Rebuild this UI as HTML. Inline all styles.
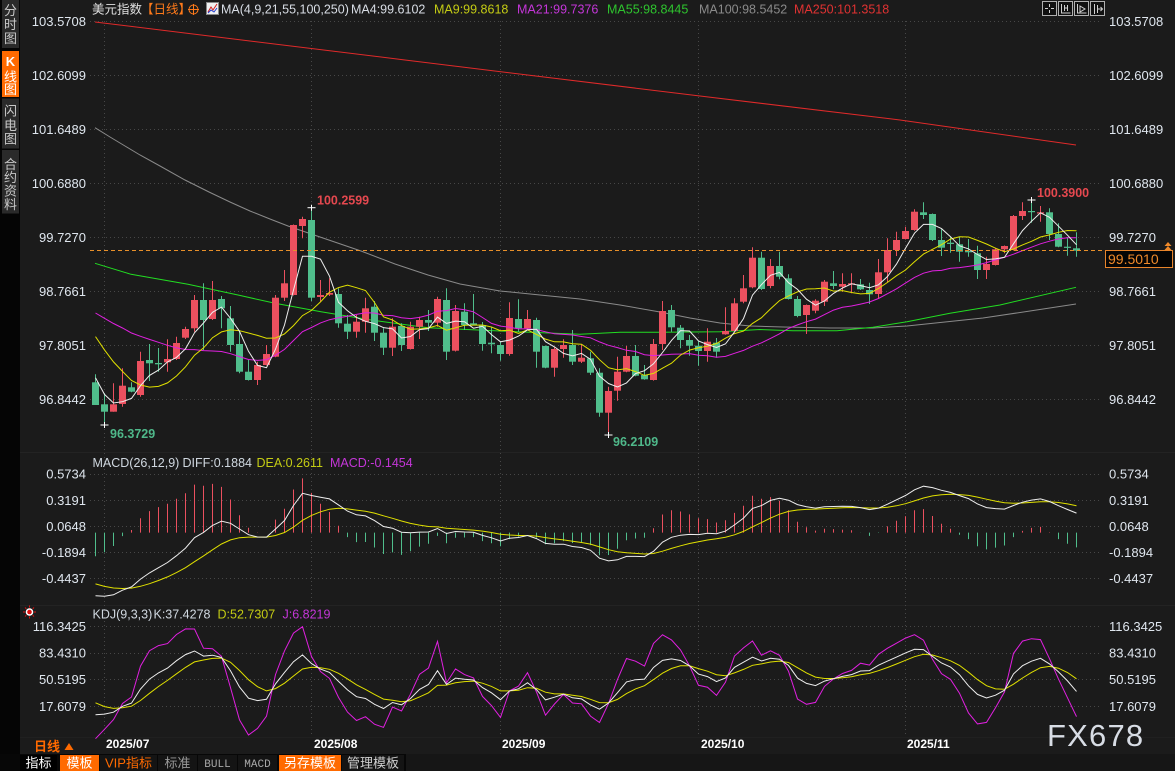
<!DOCTYPE html>
<html><head><meta charset="utf-8">
<style>
html,body{margin:0;padding:0;background:#1b1b1b;width:1175px;height:771px;overflow:hidden}
svg{display:block}
text{font-family:"Liberation Sans","Noto Sans CJK SC",sans-serif}
</style></head><body>
<svg id="s" width="1175" height="771" viewBox="0 0 1175 771" xmlns="http://www.w3.org/2000/svg">
<rect width="1175" height="771" fill="#1b1b1b"/>
<line x1="20" y1="452.5" x2="1175" y2="452.5" stroke="#232323"/>
<line x1="20" y1="605.5" x2="1175" y2="605.5" stroke="#232323"/>
<line x1="20" y1="737.5" x2="1175" y2="737.5" stroke="#202020"/>
<g id="grid" stroke="#474747" stroke-width="1" stroke-dasharray="1,3" fill="none">
<line x1="90" y1="21.5" x2="1100" y2="21.5"/>
<line x1="90" y1="75.5" x2="1100" y2="75.5"/>
<line x1="90" y1="129.5" x2="1100" y2="129.5"/>
<line x1="90" y1="183.5" x2="1100" y2="183.5"/>
<line x1="90" y1="237.5" x2="1100" y2="237.5"/>
<line x1="90" y1="291.5" x2="1100" y2="291.5"/>
<line x1="90" y1="345.5" x2="1100" y2="345.5"/>
<line x1="90" y1="399.5" x2="1100" y2="399.5"/>
<line x1="90" y1="474.5" x2="1100" y2="474.5"/>
<line x1="90" y1="500.5" x2="1100" y2="500.5"/>
<line x1="90" y1="526.5" x2="1100" y2="526.5"/>
<line x1="90" y1="552.5" x2="1100" y2="552.5"/>
<line x1="90" y1="578.5" x2="1100" y2="578.5"/>
<line x1="90" y1="626.5" x2="1100" y2="626.5"/>
<line x1="90" y1="653.5" x2="1100" y2="653.5"/>
<line x1="90" y1="679.5" x2="1100" y2="679.5"/>
<line x1="90" y1="706.5" x2="1100" y2="706.5"/>
<line x1="104.5" y1="21" x2="104.5" y2="737"/>
<line x1="311.5" y1="21" x2="311.5" y2="737"/>
<line x1="500.5" y1="21" x2="500.5" y2="737"/>
<line x1="698.5" y1="21" x2="698.5" y2="737"/>
<line x1="905.5" y1="21" x2="905.5" y2="737"/>
</g>
<g id="dyn"></g>
<line x1="90" y1="250.5" x2="1103" y2="250.5" stroke="#e8902a" stroke-width="1" stroke-dasharray="4,3"/>

<rect x="0" y="0" width="20" height="755" fill="#050505"/>
<rect x="2" y="0" width="17" height="48" fill="#2a2a2a"/>
<rect x="2" y="51" width="17" height="46" fill="#ff6a00"/>
<rect x="2" y="98.5" width="17" height="50" fill="#2a2a2a"/>
<rect x="2" y="150" width="17" height="63.5" fill="#2a2a2a"/>
<g font-size="13" text-anchor="middle" fill="#c8c8c8">
<text x="10.5" y="15">分</text><text x="10.5" y="29">时</text><text x="10.5" y="43">图</text>
<text x="10.5" y="66" fill="#fff" font-weight="bold">K</text><text x="10.5" y="81.5" fill="#fff">线</text><text x="10.5" y="94" fill="#fff">图</text>
<text x="10.5" y="115.5">闪</text><text x="10.5" y="130">电</text><text x="10.5" y="143.5">图</text>
<text x="10.5" y="169">合</text><text x="10.5" y="182">约</text><text x="10.5" y="195.5">资</text><text x="10.5" y="209">料</text>
</g>

<g font-size="12.5">
<text x="92" y="13.5" fill="#e0e0e0">美元指数</text>
<text x="141" y="13.5" fill="#ff7a1a">【日线】</text>
<text x="221" y="13.5" fill="#d8dde5">MA(4,9,21,55,100,250)</text>
<text x="351" y="13.5" fill="#d8dde5">MA4:99.6102</text>
<text x="434" y="13.5" fill="#c4cc14">MA9:99.8618</text>
<text x="517" y="13.5" fill="#c436d8">MA21:99.7376</text>
<text x="607" y="13.5" fill="#2ec42e">MA55:98.8445</text>
<text x="699" y="13.5" fill="#8a8a8a">MA100:98.5452</text>
<text x="794" y="13.5" fill="#e03232">MA250:101.3518</text>
</g>
<circle cx="193.5" cy="9.5" r="4.5" fill="none" stroke="#ff7a1a" stroke-width="1"/>
<line x1="188" y1="9.5" x2="199" y2="9.5" stroke="#ff7a1a"/>
<line x1="193.5" y1="4" x2="193.5" y2="15" stroke="#ff7a1a"/>
<rect x="206.5" y="2.5" width="12" height="12" fill="#f0f0f0" stroke="#888"/>
<polyline points="208,12 211,7 213,10 217,4" fill="none" stroke="#d02020" stroke-width="1"/>
<polyline points="208,13 211,10 214,12 217,8" fill="none" stroke="#2040d0" stroke-width="1"/>
<g fill="#111" stroke="#b0b0b0" stroke-width="1">
<rect x="1042.5" y="1.5" width="14" height="14"/>
<rect x="1058.5" y="1.5" width="14" height="14"/>
<rect x="1074.5" y="1.5" width="14" height="14"/>
<rect x="1090.5" y="1.5" width="14" height="14"/>
</g>
<g stroke="#d0d0d0" stroke-width="1" fill="none">
<path d="M1049.5 4v3M1049.5 10v3M1045 8.5h3M1051 8.5h3"/>
<path d="M1061.5 4v9h9M1064.5 5v6M1067.5 5v6M1064.5 8h3"/>
<path d="M1077.5 4v9h9M1080 6l5 3l-5 3z"/>
<path d="M1094.5 4v10M1097.5 5v8M1097.5 9h5M1100.5 7l2 2l-2 2"/>
</g>

<g font-size="13" fill="#dfe6ee" text-anchor="end">
<text x="86" y="26">103.5708</text>
<text x="86" y="80">102.6099</text>
<text x="86" y="134">101.6489</text>
<text x="86" y="188">100.6880</text>
<text x="86" y="242">99.7270</text>
<text x="86" y="296">98.7661</text>
<text x="86" y="350">97.8051</text>
<text x="86" y="404">96.8442</text>
<text x="86" y="478.5">0.5734</text>
<text x="86" y="505">0.3191</text>
<text x="86" y="531">0.0648</text>
<text x="86" y="557">-0.1894</text>
<text x="86" y="583">-0.4437</text>
<text x="86" y="631">116.3425</text>
<text x="86" y="657.5">83.4310</text>
<text x="86" y="684">50.5195</text>
<text x="86" y="711">17.6079</text>
</g>
<g font-size="13" fill="#dfe6ee">
<text x="1109" y="26">103.5708</text>
<text x="1109" y="80">102.6099</text>
<text x="1109" y="134">101.6489</text>
<text x="1109" y="188">100.6880</text>
<text x="1109" y="242">99.7270</text>
<text x="1109" y="296">98.7661</text>
<text x="1109" y="350">97.8051</text>
<text x="1109" y="404">96.8442</text>
<text x="1109" y="478.5">0.5734</text>
<text x="1109" y="505">0.3191</text>
<text x="1109" y="531">0.0648</text>
<text x="1109" y="557">-0.1894</text>
<text x="1109" y="583">-0.4437</text>
<text x="1109" y="631">116.3425</text>
<text x="1109" y="657.5">83.4310</text>
<text x="1109" y="684">50.5195</text>
<text x="1109" y="711">17.6079</text>
</g>
<rect x="1105.5" y="250.5" width="67" height="17" fill="#050505" stroke="#e8842a" stroke-width="1"/>
<text x="1108" y="264" font-size="14" fill="#f08a2a">99.5010</text>
<path d="M1168 242l3.5 4h-7z M1168 246l3.5 4h-7z" fill="#f08a2a"/>

<g font-size="12.5" font-weight="bold">
<text x="317" y="204.5" fill="#e5484f">100.2599</text>
<text x="110" y="438" fill="#4fb88a">96.3729</text>
<text x="613" y="446" fill="#4fb88a">96.2109</text>
<text x="1037" y="197" fill="#e5484f">100.3900</text>
</g>

<g font-size="12.5">
<text x="92.5" y="467" fill="#d0d8e0">MACD(26,12,9)</text>
<text x="182.5" y="467" fill="#d0d8e0">DIFF:0.1884</text>
<text x="256.5" y="467" fill="#c4cc14">DEA:0.2611</text>
<text x="330" y="467" fill="#c436d8">MACD:-0.1454</text>
<text x="92.5" y="618.5" fill="#d0d8e0">KDJ(9,3,3)</text>
<text x="153.5" y="618.5" fill="#d0d8e0">K:37.4278</text>
<text x="217.5" y="618.5" fill="#c4cc14">D:52.7307</text>
<text x="282.5" y="618.5" fill="#c436d8">J:6.8219</text>
</g>
<circle cx="29.5" cy="612" r="3.8" fill="#fff"/>
<circle cx="29.5" cy="612" r="2.3" fill="#e01010"/>
<g stroke="#e01010" stroke-width="1">
<path d="M29.5 605.5v2M29.5 616.5v2M23 612h2M34 612h2M25 607.5l1.3 1.3M32.7 615.2l1.3 1.3M34 607.5l-1.3 1.3M26.3 615.2l-1.3 1.3"/>
</g>

<g font-size="12" font-weight="bold" fill="#ffffff">
<text x="106" y="748">2025/07</text>
<text x="314" y="748">2025/08</text>
<text x="502" y="748">2025/09</text>
<text x="701" y="748">2025/10</text>
<text x="907" y="748">2025/11</text>
</g>
<text x="34" y="751" font-size="13" font-weight="bold" fill="#ff6a00">日线</text>
<path d="M69 743l4.5 7h-9z" fill="#ff6a00"/>
<text x="1047" y="746" font-size="31" fill="#d8dde5" letter-spacing="1.2">FX678</text>

<rect x="0" y="754" width="1175" height="17" fill="#161616"/>
<rect x="0" y="754" width="406" height="17" fill="#070707"/>
<rect x="20" y="755" width="37" height="16" fill="#000"/>
<rect x="60" y="755" width="39" height="16" fill="#ff6a00"/>
<rect x="100" y="755" width="57" height="16" fill="#141414"/>
<rect x="158" y="755" width="39" height="16" fill="#141414"/>
<rect x="198" y="755" width="39" height="16" fill="#141414"/>
<rect x="238" y="755" width="39" height="16" fill="#141414"/>
<rect x="279" y="755" width="62" height="16" fill="#ff6a00"/>
<rect x="342" y="755" width="62" height="16" fill="#141414"/>
<g font-size="13" text-anchor="middle">
<text x="38.5" y="767.5" fill="#fff">指标</text>
<text x="79.5" y="767.5" fill="#fff">模板</text>
<text x="128.5" y="767.5" fill="#ff6a00">VIP指标</text>
<text x="177.5" y="767.5" fill="#9a9a9a">标准</text>
<text x="217.5" y="767" fill="#a8a8a8" font-size="11" style="font-family:'Liberation Mono',monospace">BULL</text>
<text x="257.5" y="767" fill="#a8a8a8" font-size="11" style="font-family:'Liberation Mono',monospace">MACD</text>
<text x="310" y="767.5" fill="#fff">另存模板</text>
<text x="373" y="767.5" fill="#cfcfcf">管理模板</text>
</g>
</svg>
<script>
(function(){
var D=[[0,382.3,405,374.3,405],[0,404.3,411.7,393.3,425],[1,404.3,411.7,383.3,411.7],[1,385.7,404,368.3,406.7],[0,387.3,391.7,382.3,392.3],[1,361,395,351.7,396.7],[0,360,363.3,344,381],[0,363,364.3,348,371.7],[1,359,362.3,339.3,371.7],[1,343,359,336.7,360],[1,329,337.7,326.7,339],[1,300,328.3,295,331.7],[0,300,320,283.3,350],[1,300,319,281,320],[0,299,308.3,296,328.3],[0,318.3,345,306,351.7],[0,344,371.7,331.7,373.3],[0,371.7,380,360,380.5],[1,365,380,361.7,385],[1,354,365,345,365.5],[1,297.7,356.7,295,357.3],[1,283.3,297.7,270,301],[1,225,295,224.5,295.5],[1,219,226,216.7,238.3],[0,220,297.7,207.7,301],[1,295,297,280,301.7],[1,293,294.7,278.3,296],[0,294,323.3,288.3,327.7],[0,323.7,331.7,315,339],[1,321.7,331.7,315,337.7],[1,308.3,321.7,297.7,332.7],[0,306.7,332.7,301,341],[0,332.7,347.7,328.3,355],[1,326.7,347.7,318.3,356],[0,326,345,323.3,351],[1,326.7,349,321.7,349.5],[1,320,326.7,316.7,339],[0,320,322.7,310,331],[1,299,322.7,296.7,326.7],[0,300,351.7,288.3,360],[1,311,350.7,305,351.5],[0,311.7,325,303.3,330],[0,323.3,325,294,325.5],[0,325,344,322,350.7],[0,342.7,344.3,326.7,353.3],[0,345,354,341.7,360.7],[1,318,354,302.3,355.7],[0,319,328.3,299.3,331.7],[1,319,328.3,310,330],[0,320,351.7,317.7,367.7],[0,346,367.7,345.5,368.2],[1,349,367.7,346.7,376.7],[1,345,349,339.3,357.7],[0,345,361.7,330,365],[1,357.7,361.7,344.3,363],[0,358.3,372.7,351.7,375],[0,372.7,412.7,368.3,416.7],[1,391,412.7,386.7,435],[1,371.7,390.7,356.7,400.7],[1,356,371.7,346,372.2],[0,356,375.7,345,376.2],[0,375,379.3,365,379.8],[1,344,380,339,380.6],[1,311,344,301,350],[0,310,327.3,305,331.7],[0,327.7,340,325,348.3],[0,340,345.7,335,355.7],[0,345.7,351,341,365.7],[1,341.7,351,328.3,361.7],[0,342.7,351.7,338,357.7],[1,331,334.3,307.3,334.8],[1,303.3,331,298.3,331.5],[1,288.3,301.7,275,303.3],[1,257.7,287.3,247.3,288.3],[0,257.7,289,251.7,290],[1,266,286,259,288.3],[0,266,276.7,251.7,279.3],[0,278.3,299,274.3,299.5],[0,299,316,296,317.3],[1,305,315,304.5,334],[1,300.7,310.7,299.3,313.3],[1,281.7,301.7,280,306],[0,283.3,286,271,289.3],[1,284,286.7,273.3,291.7],[1,283.3,284.3,273.3,293.3],[0,284.3,289.3,279,290],[0,290,294.3,282.7,304],[1,272.3,294,259,299],[1,250,272.3,238.3,282.3],[1,240,250,231.7,256],[1,231,239,226.7,239.5],[1,211.7,230,209.3,230.7],[0,212.3,215,202.3,219],[0,214,240,213.5,241],[0,240,247.7,229.3,256],[0,242.7,244,236.7,252.7],[0,244.3,251.7,236.7,261.7],[0,251,252.3,239,256.7],[0,253.3,270,245.7,279],[1,264,270,256.7,279],[1,249.3,265,247.7,265.5],[1,246,249.3,245.5,253.3],[1,216,250,215,250.5],[1,211,216,202.3,220],[0,211,211.7,200,222.7],[1,212.3,213.3,206,221.7],[0,212.3,234,208.3,240],[0,234,246.7,223.3,247.2],[0,246.7,247.7,237.3,255.7],[0,248.3,250.7,232.3,256.7]];
var S=[300,296,290,288,292,298,302,296,290,294,298,300,292,296,300,310,320,345,370,391];
var N=D.length,i,k;
function cx(i){return Math.round(95.3+9*i)+0.5;}
var close=[],hi=[],lo=[];
for(i=0;i<N;i++){var d=D[i];close.push(d[0]?d[1]:d[2]);hi.push(d[3]);lo.push(d[4]);}
var all=S.concat(close);
function ma(n){var o=[];for(var i=0;i<N;i++){var s=0;for(var k=0;k<n;k++)s+=all[S.length+i-k];o.push(s/n);}return o;}
function pl(arr,col,f){var p=[];for(var i=0;i<N;i++)p.push(cx(i)+','+(f?f(arr[i]):arr[i]).toFixed(1));return '<polyline points="'+p.join(' ')+'" fill="none" stroke="'+col+'" stroke-width="1"/>';}
function hp(pts,col){return '<polyline points="'+pts.map(function(p){return p[0]+','+p[1];}).join(' ')+'" fill="none" stroke="'+col+'" stroke-width="1"/>';}
var h='';
h+=hp([[95,22],[405,60],[700,96],[900,120],[1076,145]],'#e02a2a');
h+=hp([[95,127.7],[110,137],[125,146],[140,155],[160,166],[185,180],[209,192],[230,202],[250,211],[270,219],[288,226],[320,237],[361,251],[395,264],[428,275],[460,284],[500,291],[540,295],[580,299],[620,305],[660,312],[690,318],[720,323],[750,326],[783,327],[830,328],[873,328],[907,326],[945,322],[983,318],[1030,311],[1076,304]],'#8a8a8a');
h+=hp([[95,263.3],[131,274.3],[188,284.3],[238,295],[275,303.3],[321,311.7],[371,320],[428,327.7],[500,331],[580,334.3],[620,332.3],[660,332.3],[720,331.7],[760,329.5],[793,330.7],[837,330.7],[873,327.3],[907,321.7],[950,313.3],[1000,305],[1076,287.3]],'#22dd22');
var RED='#eb505f',GRN='#50be8c';
for(i=0;i<N;i++){var d=D[i],c=cx(i),col=d[0]?RED:GRN;
h+='<line x1="'+c+'" y1="'+d[3]+'" x2="'+c+'" y2="'+d[4]+'" stroke="'+col+'" stroke-width="1"/>';
var ht=Math.max(1.2,d[2]-d[1]);
h+='<rect x="'+(c-3.5)+'" y="'+d[1]+'" width="7" height="'+ht.toFixed(1)+'" fill="'+col+'"/>';}
[[24,207.7],[1,425],[57,435],[104,200]].forEach(function(e){var c=cx(e[0]);h+='<line x1="'+(c-4)+'" y1="'+e[1]+'" x2="'+(c+4)+'" y2="'+e[1]+'" stroke="#fff"/><line x1="'+c+'" y1="'+(e[1]-3)+'" x2="'+c+'" y2="'+(e[1]+3)+'" stroke="#fff"/>';});
h+=pl(ma(21),'#e020e0');
h+=pl(ma(9),'#e0e000');
h+=pl(ma(4),'#eeeeee');
function P(y){return 103.5708-(y-21.3)*0.017795;}
var c1=P(close[0]),e12=c1+0.6,e26=c1+1.213,dea=-0.471,dif=[],dA=[],bar=[];
for(i=0;i<N;i++){var cp=P(close[i]);e12+=(cp-e12)*2/13;e26+=(cp-e26)*2/27;var df=e12-e26;dea+=(df-dea)*0.2;dif.push(df);dA.push(dea);bar.push(2*(df-dea));}
function my(v){return 532.6-v*102.6;}
for(i=0;i<N;i++){var c=cx(i),yb=my(bar[i]);h+='<line x1="'+c+'" y1="532.6" x2="'+c+'" y2="'+yb.toFixed(1)+'" stroke="'+(bar[i]>=0?RED:GRN)+'" stroke-width="1"/>';}
h+=pl(dA,'#e0e000',my);
h+=pl(dif,'#eeeeee',my);
var SH=S.map(function(v){return v-6;}),SL=S.map(function(v){return v+6;});
var aH=SH.concat(hi),aL=SL.concat(lo),K=11.5,Dd=29.9,KA=[],DA=[],JA=[];
for(i=0;i<N;i++){var hm=1e9,lm=-1e9;for(k=0;k<9;k++){var j=S.length+i-k;hm=Math.min(hm,aH[j]);lm=Math.max(lm,aL[j]);}
var rsv=lm===hm?50:(lm-close[i])/(lm-hm)*100;K=2/3*K+rsv/3;Dd=2/3*Dd+K/3;KA.push(K);DA.push(Dd);JA.push(3*K-2*Dd);}
function ky(v){return 706.7-(v-17.6079)*0.8082;}
h+=pl(JA,'#e020e0',ky);
h+=pl(DA,'#e0e000',ky);
h+=pl(KA,'#eeeeee',ky);
document.getElementById('dyn').innerHTML=h;
})();
</script>
</body></html>
